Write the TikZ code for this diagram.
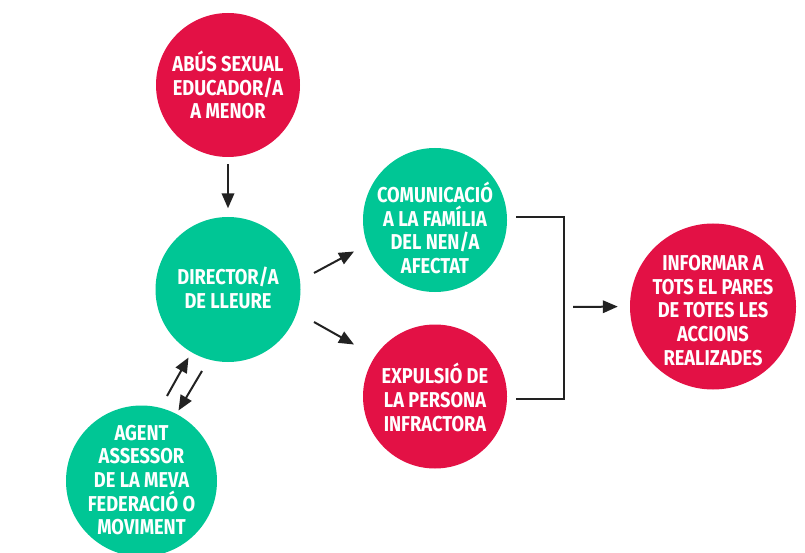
\documentclass[tikz,border=0pt]{standalone}
\usepackage{fontspec}
\setmainfont[FakeStretch=0.85]{Fira Sans}
\usetikzlibrary{arrows.meta,calc}
\definecolor{cred}{RGB}{227,17,69}
\definecolor{cgreen}{RGB}{0,198,149}
\definecolor{cline}{RGB}{34,34,34}
\tikzset{
  circ/.style={circle, minimum size=#1, inner sep=0pt, draw=none},
  lbl/.style={text=white, align=center, inner sep=0pt, font=\bfseries\fontsize{21.5}{23.6}\selectfont},
  arr/.style={draw=cline, line width=2pt, -{Triangle[length=15pt,width=12.5pt]}},
  brk/.style={draw=cline, line width=2pt},
}
\begin{document}
\begin{tikzpicture}[x=1pt,y=-1pt]
\useasboundingbox (0,0) rectangle (805,553);
\fill[white] (0,0) rectangle (805,553);
\clip (0,0) rectangle (805,553);
% circles
\node[circ=144pt, fill=cred]   (abus) at (228,85) {};
\node[circ=145pt, fill=cgreen] (dir)  at (228,289.5) {};
\node[circ=151pt, fill=cgreen] (agent) at (141.5,481) {};
\node[circ=144pt, fill=cgreen] (comm) at (435,220) {};
\node[circ=144pt, fill=cred]   (exp)  at (435,396.5) {};
\node[circ=166pt, fill=cred]   (info) at (713,306.5) {};
% labels
\node[lbl] (abusT) at (228,85) {ABÚS SEXUAL\\EDUCADOR/A\\A MENOR};
\node[lbl] (dirT) at (228,288) {DIRECTOR/A\\DE LLEURE};
\node[lbl] (agentT) at (141.5,480) {AGENT\\ASSESSOR\\DE LA MEVA\\FEDERACIÓ O\\MOVIMENT};
\node[lbl] (commT) at (435,228) {COMUNICACIÓ\\A LA FAMÍLIA\\DEL NEN/A\\AFECTAT};
\node[lbl] (expT) at (435,397.5) {EXPULSIÓ DE\\LA PERSONA\\INFRACTORA};
\node[lbl] (infoT) at (713,310.5) {INFORMAR A\\TOTS EL PARES\\DE TOTES LES\\ACCIONS\\REALIZADES};
% connectors
\draw[arr, shorten <=7pt, shorten >=8.5pt] (abus.south) -- (dir.north);
\coordinate (d1s) at (314,273);
\coordinate (d1e) at (354,251.5);
\coordinate (d2s) at (314,322);
\coordinate (d2e) at (354,344.5);
\draw[arr] (d1s) -- (d1e);
\draw[arr] (d2s) -- (d2e);
\coordinate (u1s) at (167,396);
\coordinate (u1e) at (188.5,357.5);
\coordinate (u2s) at (202,371);
\coordinate (u2e) at (178.5,410.5);
\draw[arr] (u1s) -- (u1e);
\draw[arr] (u2s) -- (u2e);
% bracket
\coordinate (btop) at (516,217);
\coordinate (bcorner) at (564,217);
\coordinate (bbot) at (516,399);
\draw[brk] (btop) -- (bcorner) |- (bbot);
\coordinate (bm) at (573,307);
\draw[arr, shorten >=12pt] (bm) -- (info.west);
\end{tikzpicture}
\end{document}
